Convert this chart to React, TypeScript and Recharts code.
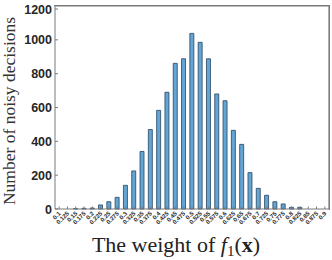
import { Bar, XAxis, YAxis, Label, BarChart, ReferenceLine, CartesianGrid } from 'recharts';

const weights = [
  '0.1', '0.125', '0.15', '0.175', '0.2', '0.225', '0.25', '0.275', '0.3', '0.325', '0.35',
  '0.375', '0.4', '0.425', '0.45', '0.475', '0.5', '0.525', '0.55', '0.575', '0.6', '0.625',
  '0.65', '0.675', '0.7', '0.725', '0.75', '0.775', '0.8', '0.825', '0.85', '0.875', '0.9',
];
const counts = [
  0, 0, 2, 4, 6, 24, 43, 69, 140, 225, 340,
  470, 583, 690, 861, 888, 1038, 985, 888, 680, 640, 465,
  382, 215, 122, 81, 43, 30, 10, 10, 0, 0, 0,
];
const yTicks = [0, 200, 400, 600, 800, 1000, 1200];

const data = weights.map((w, i) => ({ w, count: counts[i] }));

const AXIS = '#7a7a7a';
const TEXT = '#262626';

function BottomTick(props: any) {
  const { x, y, payload } = props;
  return (
    <g>
      <line x1={x} x2={x} y1={y} y2={y - 2.5} stroke={AXIS} strokeWidth={1} />
      <text
        x={x + 2}
        y={y + 5}
        transform={`rotate(-45 ${x + 2} ${y + 5})`}
        textAnchor="end"
        fontSize={6}
        fontWeight="bold"
        fontFamily="Liberation Sans"
        fill={TEXT}
      >
        {payload.value}
      </text>
    </g>
  );
}

function LeftTick(props: any) {
  const { x, y, payload } = props;
  return (
    <g>
      <line x1={x} x2={x + 3} y1={y} y2={y} stroke={AXIS} strokeWidth={1} />
      <text
        x={x - 3}
        y={y + 4.5}
        textAnchor="end"
        fontSize={12.5}
        fontWeight="bold"
        fontFamily="Liberation Sans"
        fill={TEXT}
      >
        {payload.value}
      </text>
    </g>
  );
}

const yTitle = () => (
  <text
    x={15}
    y={111}
    transform="rotate(-90 15 111)"
    textAnchor="middle"
    fontSize={17.5}
    fontFamily="Liberation Serif"
    fill="#333"
  >
    Number of noisy decisions
  </text>
);

const xTitle = () => (
  <text x={176} y={252} textAnchor="middle" fontSize={22} fontFamily="Liberation Serif" fill="#222">
    The weight of <tspan fontStyle="italic">f</tspan>
    <tspan fontSize={15} dy={4}>1</tspan>
    <tspan dy={-4}>(</tspan>
    <tspan fontWeight="bold">x</tspan>)
  </text>
);

export default function App() {
  return (
    <div style={{ position: 'absolute', left: 0, top: 0, width: 332, height: 260, background: '#fff' }}>
      <BarChart width={332} height={260} data={data} margin={{ top: 6, right: 3, left: 0, bottom: 0 }} barCategoryGap={0}>
        {/* only the top edge of the grid: horizontal line at the last y tick */}
        <CartesianGrid
          vertical={false}
          horizontalValues={[1200]}
          stroke={AXIS}
          strokeWidth={1}
        />
        <XAxis
          dataKey="w"
          interval={0}
          height={51}
          stroke={AXIS}
          tickLine={false}
          tickSize={0}
          tickMargin={0}
          tick={<BottomTick />}
        >
          <Label content={xTitle} />
        </XAxis>
        <YAxis
          domain={[0, 1200]}
          ticks={yTicks}
          width={55}
          stroke={AXIS}
          tickLine={false}
          tickSize={0}
          tickMargin={0}
          tick={<LeftTick />}
        >
          <Label content={yTitle} />
        </YAxis>
        <ReferenceLine y={1200} stroke={AXIS} strokeWidth={1.2} ifOverflow="extendDomain" />
        <ReferenceLine x={weights[weights.length - 1]} position="end" stroke={AXIS} strokeWidth={1.2} ifOverflow="extendDomain" />
        <Bar dataKey="count" fill="#63a6d6" stroke="#27445f" strokeWidth={0.8} barSize={4} isAnimationActive={false} />
      </BarChart>
      <div
        style={{
          position: 'absolute',
          zIndex: 10,
          left: 54,
          top: 5,
          width: 276,
          height: 205,
          borderTop: `1px solid ${AXIS}`,
          borderRight: `1px solid ${AXIS}`,
          boxSizing: 'border-box',
          pointerEvents: 'none',
        }}
      />
    </div>
  );
}
